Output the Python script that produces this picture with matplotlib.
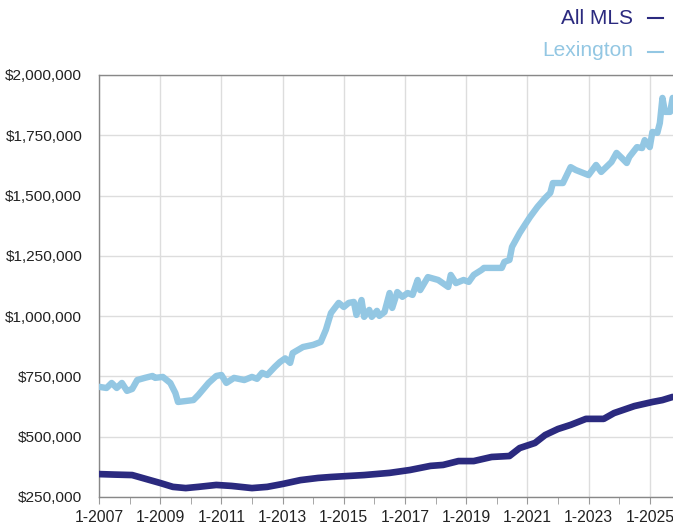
import matplotlib
matplotlib.use("Agg")
import matplotlib.pyplot as plt
import matplotlib.dates as mdates
import pandas as pd
from matplotlib.lines import Line2D
from matplotlib.ticker import FixedLocator, FuncFormatter

# median price, monthly readings
lex_dates = [
    "2007-01", "2007-04", "2007-06", "2007-08", "2007-10", "2007-12", "2008-02", "2008-04",
    "2008-07", "2008-10", "2008-11", "2009-02", "2009-05", "2009-07", "2009-08", "2009-11",
    "2010-02", "2010-04", "2010-08", "2010-11", "2011-01", "2011-03", "2011-06", "2011-10",
    "2012-01", "2012-03", "2012-05", "2012-07", "2012-10", "2012-12", "2013-02", "2013-04",
    "2013-05", "2013-09", "2014-01", "2014-04", "2014-06", "2014-08", "2014-11", "2015-01",
    "2015-03", "2015-05", "2015-06", "2015-08", "2015-09", "2015-11", "2015-12", "2016-02",
    "2016-03", "2016-05", "2016-07", "2016-08", "2016-10", "2016-12", "2017-02", "2017-04",
    "2017-06", "2017-07", "2017-10", "2018-02", "2018-06", "2018-07", "2018-09", "2018-12",
    "2019-02", "2019-04", "2019-07", "2019-08", "2020-03", "2020-04", "2020-06", "2020-07",
    "2020-10", "2020-12", "2021-02", "2021-05", "2021-08", "2021-10", "2021-11", "2022-03",
    "2022-06", "2022-08", "2023-01", "2023-04", "2023-06", "2023-10", "2023-12", "2024-02",
    "2024-04", "2024-05", "2024-08", "2024-10", "2024-11", "2025-01", "2025-02", "2025-04",
    "2025-05", "2025-06", "2025-07", "2025-09", "2025-10",
]
lex_values = [
    707000, 702000, 723000, 702000, 723000, 690000, 698000, 735000,
    744000, 752000, 744000, 748000, 723000, 681000, 644000, 648000,
    652000, 673000, 723000, 752000, 756000, 723000, 744000, 735000,
    748000, 740000, 765000, 756000, 790000, 810000, 825000, 806000,
    847000, 872000, 881000, 893000, 943000, 1013000, 1055000, 1038000,
    1055000, 1059000, 1005000, 1067000, 997000, 1026000, 997000, 1022000,
    1001000, 1017000, 1096000, 1034000, 1100000, 1080000, 1096000, 1088000,
    1150000, 1108000, 1162000, 1150000, 1121000, 1171000, 1137000, 1150000,
    1142000, 1171000, 1191000, 1200000, 1200000, 1225000, 1233000, 1287000,
    1345000, 1378000, 1411000, 1453000, 1490000, 1511000, 1552000, 1552000,
    1618000, 1606000, 1585000, 1627000, 1598000, 1639000, 1677000, 1656000,
    1635000, 1660000, 1701000, 1697000, 1730000, 1701000, 1764000, 1760000,
    1801000, 1905000, 1847000, 1847000, 1905000,
]

mls_dates = [
    "2007-01", "2007-07", "2008-02", "2008-09", "2009-01", "2009-06", "2009-11", "2010-04",
    "2010-11", "2011-05", "2012-01", "2012-07", "2013-01", "2013-08", "2014-03", "2014-08",
    "2015-09", "2016-07", "2017-03", "2017-11", "2018-04", "2018-10", "2019-04", "2019-11",
    "2020-06", "2020-10", "2021-04", "2021-08", "2022-01", "2022-06", "2022-12", "2023-07",
    "2023-11", "2024-07", "2025-02", "2025-06", "2025-10",
]
mls_values = [
    345000, 343000, 341000, 320000, 308000, 292000, 287000, 292000,
    300000, 296000, 287000, 292000, 304000, 320000, 329000, 333000,
    341000, 350000, 362000, 379000, 383000, 399000, 399000, 416000,
    420000, 453000, 474000, 507000, 532000, 549000, 574000, 574000,
    598000, 627000, 644000, 652000, 665000,
]

y_ticks = [250000, 500000, 750000, 1000000, 1250000, 1500000, 1750000, 2000000]
label_years = [2007, 2009, 2011, 2013, 2015, 2017, 2019, 2021, 2023, 2025]
minor_years = list(range(2007, 2026))

LEX_COLOR = "#93c7e3"
MLS_COLOR = "#2b2a7f"
TEXT = "#222222"

lex_x = pd.to_datetime(lex_dates)
mls_x = pd.to_datetime(mls_dates)

fig = plt.figure(figsize=(6.73, 5.25), dpi=100)
ax = fig.add_axes([99 / 673, 1 - 497 / 525, 1 - 99 / 673, (497 - 75) / 525])

ax.plot(lex_x, lex_values, color=LEX_COLOR, lw=4.6, solid_joinstyle="round",
        solid_capstyle="round", zorder=3)
ax.plot(mls_x, mls_values, color=MLS_COLOR, lw=4.8, solid_joinstyle="round",
        solid_capstyle="round", zorder=4)

ax.set_ylim(250000, 2000000)
ax.set_yticks(y_ticks)
ax.yaxis.set_major_formatter(FuncFormatter(lambda v, _: f"${v:,.0f}"))
ax.set_xlim(pd.Timestamp("2007-01-01"), pd.Timestamp("2025-10-05"))
major_pos = [mdates.date2num(pd.Timestamp(f"{y}-01-01")) for y in label_years]
minor_pos = [mdates.date2num(pd.Timestamp(f"{y}-01-01")) for y in minor_years]
ax.xaxis.set_major_locator(FixedLocator(major_pos))
ax.xaxis.set_minor_locator(FixedLocator(minor_pos))
ax.xaxis.set_major_formatter(FuncFormatter(lambda v, _: f"1-{mdates.num2date(v).year}"))

ax.grid(True, which="major", color="#dddddd", lw=1.0, zorder=0)
ax.tick_params(axis="y", length=0, pad=12, labelsize=11.1, labelcolor=TEXT)
ax.tick_params(axis="x", which="both", length=5, color="#999999", pad=4,
               labelsize=11.3, labelcolor=TEXT)
for side in ["left", "bottom", "top"]:
    ax.spines[side].set_color("#888888")
    ax.spines[side].set_linewidth(1.0)
ax.spines["right"].set_visible(False)
for lbl in ax.get_xticklabels() + ax.get_yticklabels():
    lbl.set_fontfamily("Liberation Sans")

# legend in the top right corner
fig.text(633 / 673, 1 - 18 / 525, "All MLS", ha="right", va="center", color=MLS_COLOR,
         fontsize=15, family="Liberation Sans")
fig.text(633 / 673, 1 - 50 / 525, "Lexington", ha="right", va="center", color=LEX_COLOR,
         fontsize=15, family="Liberation Sans")
fig.add_artist(Line2D([648 / 673, 663 / 673], [1 - 18 / 525] * 2, color=MLS_COLOR, lw=1.5))
fig.add_artist(Line2D([648 / 673, 663 / 673], [1 - 52 / 525] * 2, color=LEX_COLOR, lw=1.5))

fig.savefig("out.png", dpi=100, facecolor="white")
